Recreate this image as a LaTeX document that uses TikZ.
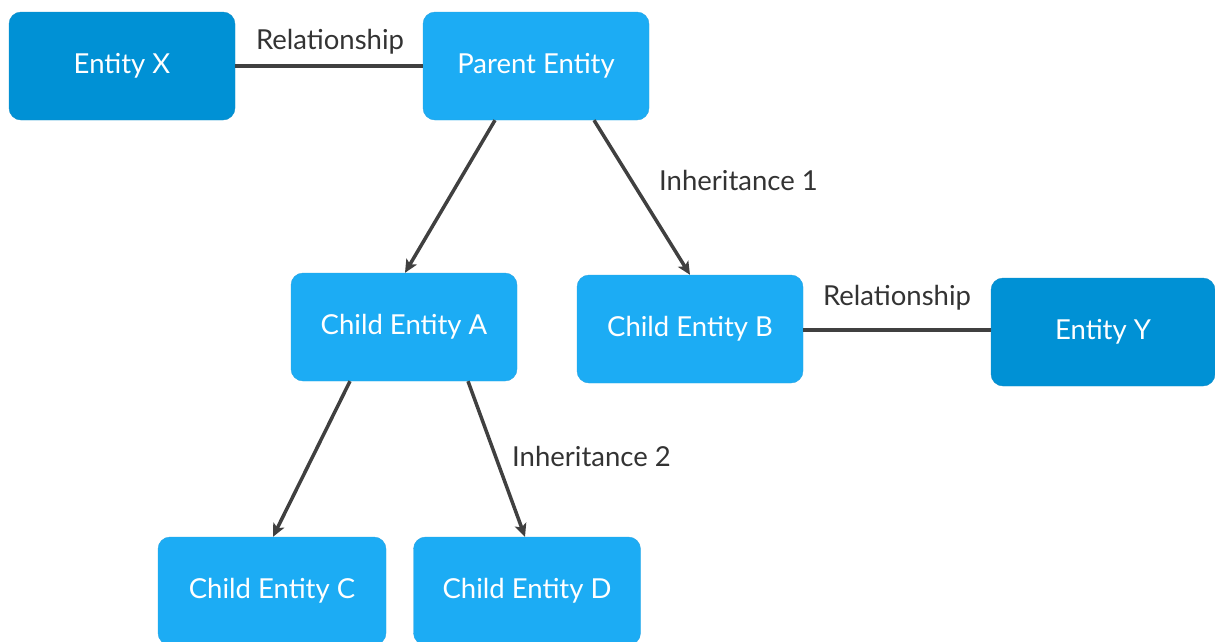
\documentclass[tikz,border=0pt]{standalone}
\usepackage{fontspec}
\setmainfont{Lato}
\usetikzlibrary{calc,arrows.meta}
\definecolor{entdark}{HTML}{0091D5}
\definecolor{entlight}{HTML}{1CACF4}
\definecolor{linkgray}{HTML}{404040}
\definecolor{labelgray}{HTML}{333333}
\begin{document}
\begin{tikzpicture}[x=1pt,y=-1pt,
  entity/.style={rectangle, rounded corners=12pt, draw=#1!85!gray, line width=0.4pt, fill=#1,
    minimum width=226pt, minimum height=108pt, inner sep=0pt,
    text=white, font=\fontsize{27.5}{30}\selectfont},
  link/.style={draw=linkgray, line width=3.5pt},
  inherit/.style={link, -{Stealth[length=13pt,width=12pt,inset=3pt]}},
  lbl/.style={text=labelgray, font=\fontsize{27.5}{30}\selectfont, inner sep=0pt}]
\useasboundingbox (0,0) rectangle (1215,641);
% entities
\node[entity=entdark]  (X) at (122,66)  {Entity X};
\node[entity=entlight] (P) at (536,66)  {Parent Entity};
\node[entity=entlight] (A) at (404,327) {Child Entity A};
\node[entity=entlight] (B) at (690,329) {Child Entity B};
\node[entity=entdark, minimum width=224pt] (Y) at (1103,332) {Entity Y};
\node[entity=entlight, minimum width=228pt] (C) at (272,591) {Child Entity C};
\node[entity=entlight, minimum width=227pt] (D) at (527,591) {Child Entity D};
% relationships
\draw[link] (X.east) -- (P.west);
\coordinate (bstart) at ($(B.east)+(0,1)$);
\draw[link] (bstart) -- (bstart -| Y.west);
% inheritance arrows
\draw[inherit] ($(P.south)+(-41,0)$) -- ($(A.north)+(1,0)$);
\draw[inherit] ($(P.south)+(58,0)$) -- (B.north);
\draw[inherit] ($(A.south)+(-54,0)$) -- ($(C.north)+(1,0)$);
\draw[inherit] ($(A.south)+(64,0)$) -- ($(D.north)+(-2,0)$);
% labels
\node[lbl] (r1) at (330,42) {Relationship};
\node[lbl, anchor=west] (i1) at (659,180) {Inheritance 1};
\node[lbl] (r2) at (897,298) {Relationship};
\node[lbl, anchor=west] (i2) at (512,456) {Inheritance 2};
\end{tikzpicture}
\end{document}
